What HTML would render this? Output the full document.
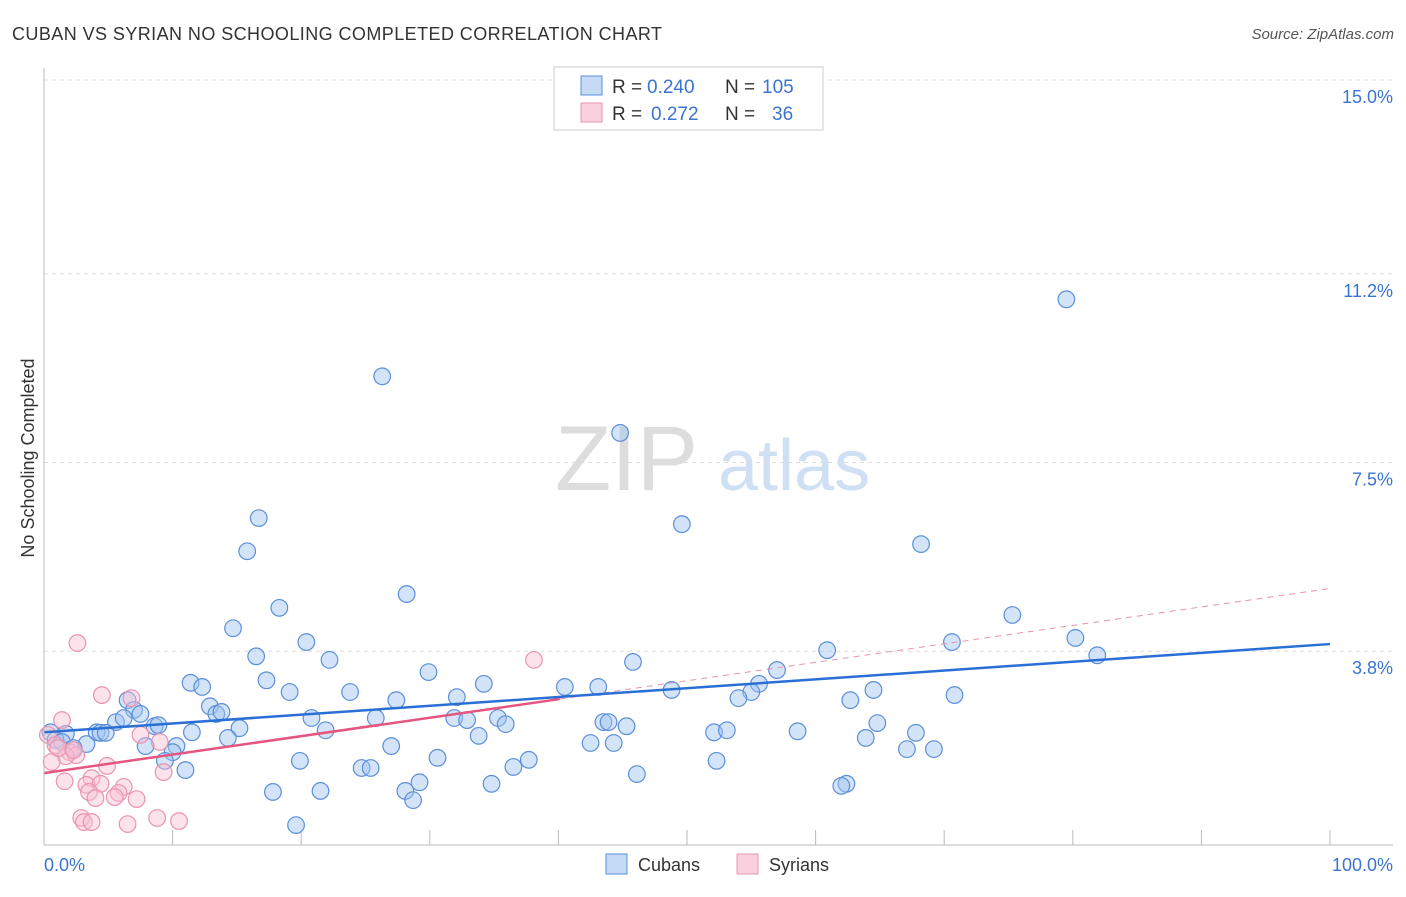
<!DOCTYPE html>
<html><head><meta charset="utf-8"><style>
body{margin:0;background:#fff;font-family:"Liberation Sans",sans-serif}
svg text{font-family:"Liberation Sans",sans-serif}
</style></head><body>
<svg id="c" width="1406" height="892">
<text x="12" y="40" font-size="18" fill="#333" textLength="650">CUBAN VS SYRIAN NO SCHOOLING COMPLETED CORRELATION CHART</text>
<text x="1394" y="39" font-size="15" fill="#555" font-style="italic" text-anchor="end">Source: ZipAtlas.com</text>
<text x="34" y="458" font-size="18" fill="#333" transform="rotate(-90 34 458)" text-anchor="middle">No Schooling Completed</text>
<text x="555" y="490" font-size="92" fill="#ddd" font-family="Liberation Serif">ZIP</text>
<text x="718" y="490" font-size="72" fill="#cfe0f4">atlas</text>
<g id="grid"></g><g id="pts"></g><g id="lines"></g>
<line x1="44" y1="68" x2="44" y2="845" stroke="#bbb"/>
<line x1="44" y1="845" x2="1393" y2="845" stroke="#bbb"/>
<text x="44" y="871" font-size="18" fill="#3b74d0">0.0%</text>
<text x="1393" y="871" font-size="18" fill="#3b74d0" text-anchor="end">100.0%</text>
<g>
<rect x="554" y="67" width="269" height="63" fill="#fff" stroke="#ccc"/>
<rect x="581" y="76" width="21" height="19" fill="#c5dbf5" stroke="#5b8fd9"/>
<rect x="581" y="103" width="21" height="19" fill="#fbd0de" stroke="#e994b0"/>
<text x="612" y="93" font-size="19" fill="#333">R =</text>
<text x="647" y="93" font-size="19" fill="#3b74d0">0.240</text>
<text x="725" y="93" font-size="19" fill="#333">N =</text>
<text x="762" y="93" font-size="19" fill="#3b74d0">105</text>
<text x="612" y="120" font-size="19" fill="#333">R =</text>
<text x="651" y="120" font-size="19" fill="#3b74d0">0.272</text>
<text x="725" y="120" font-size="19" fill="#333">N =</text>
<text x="772" y="120" font-size="19" fill="#3b74d0">36</text>
</g>
<g>
<rect x="606" y="854" width="21" height="20" fill="#c5dbf5" stroke="#5b8fd9"/>
<text x="638" y="871" font-size="18" fill="#333">Cubans</text>
<rect x="737" y="854" width="21" height="20" fill="#fbd0de" stroke="#e994b0"/>
<text x="769" y="871" font-size="18" fill="#333">Syrians</text>
</g>
</svg>
<script>
const yTicks=[3.8,7.5,11.2,15.0];
const yTickLabels=["3.8%","7.5%","11.2%","15.0%"];
const cubanX=[26.3,79.5,44.8,49.6,16.7,15.8,68.2,28.2,18.3,75.3,14.7,20.4,70.6,80.2,60.9,81.9,16.5,22.2,45.8,29.9,57.0,11.4,12.3,17.3,34.2,40.5,43.1,48.8,55.6,55.0,64.5,19.1,23.8,32.1,27.4,54.0,62.7,70.8,6.5,12.9,7.0,7.5,13.4,13.8,20.8,25.8,31.9,32.9,35.3,35.9,5.6,6.2,8.6,8.9,43.5,43.9,45.3,64.8,4.1,4.4,4.8,11.5,15.2,21.9,52.1,53.1,58.6,67.8,0.5,1.7,14.3,33.8,63.9,0.9,1.4,3.3,2.3,42.5,44.3,10.3,7.9,27.0,67.1,69.2,10.0,9.4,19.9,30.6,37.7,52.3,36.5,24.7,25.4,11.0,46.1,29.2,34.8,62.4,62.0,17.8,21.5,28.1,28.7,19.6];
const cubanY=[9.19,10.70,8.08,6.29,6.41,5.76,5.90,4.92,4.65,4.51,4.25,3.98,3.98,4.06,3.82,3.72,3.70,3.63,3.59,3.39,3.43,3.18,3.10,3.23,3.16,3.10,3.10,3.04,3.16,3.00,3.04,3.00,3.00,2.90,2.84,2.88,2.84,2.94,2.84,2.72,2.65,2.57,2.57,2.61,2.49,2.49,2.49,2.45,2.49,2.37,2.41,2.49,2.33,2.35,2.41,2.41,2.33,2.39,2.21,2.20,2.20,2.21,2.29,2.25,2.21,2.25,2.23,2.20,2.21,2.18,2.10,2.14,2.10,2.06,2.02,1.98,1.90,2.00,2.00,1.94,1.94,1.94,1.88,1.88,1.82,1.65,1.65,1.71,1.67,1.65,1.53,1.51,1.51,1.47,1.39,1.23,1.20,1.20,1.16,1.04,1.06,1.06,0.88,0.39];
const syrianX=[2.6,4.5,6.8,1.4,7.5,9.0,0.3,0.9,2.0,2.5,1.7,0.6,4.9,9.3,3.7,1.6,3.3,4.4,6.2,5.8,3.5,4.0,5.5,7.2,38.1,2.9,3.1,3.7,6.5,8.8,10.5,1.1,2.3];
const syrianY=[3.96,2.94,2.88,2.45,2.16,2.02,2.16,1.96,1.82,1.76,1.74,1.63,1.55,1.43,1.31,1.25,1.18,1.20,1.14,1.02,1.04,0.92,0.94,0.90,3.63,0.53,0.45,0.45,0.41,0.53,0.47,1.90,1.86];
const cubanTrend=[2.21,3.94];
const syrianTrend=[1.41,5.03];
const syrianSolidEnd=40.1;
const NS='http://www.w3.org/2000/svg';
const sx=v=>44+v*12.86, sy=v=>845-v*51.0;
function mk(t,a,p){const e=document.createElementNS(NS,t);for(const k in a)e.setAttribute(k,a[k]);p.appendChild(e);return e;}
const grid=document.getElementById('grid');
yTicks.forEach((t,i)=>{
  const l=mk('line',{x1:44,x2:1393,y1:sy(t),y2:sy(t),stroke:'#ddd','stroke-dasharray':'4,4'},grid);
  
  
  const tx=mk('text',{x:1393,y:sy(t)+23,'font-size':18,fill:'#3b74d0','text-anchor':'end'},grid);
  tx.textContent=yTickLabels[i];
  
  
});
for(let i=1;i<=10;i++){
  const l=mk('line',{x1:sx(i*10),x2:sx(i*10),y1:830,y2:845,stroke:'#bbb'},grid);
  
  
}
const pts=document.getElementById('pts');
cubanX.forEach((x,i)=>{
  const c=mk('circle',{cx:sx(x),cy:sy(cubanY[i]),r:8.3,fill:'rgba(160,196,240,0.45)',stroke:'#5b8fd9','stroke-width':1.2},pts);
  
  
});
syrianX.forEach((x,i)=>{
  const c=mk('circle',{cx:sx(x),cy:sy(syrianY[i]),r:8.3,fill:'rgba(248,190,210,0.45)',stroke:'#e994b0','stroke-width':1.2},pts);
  
  
});
const L=document.getElementById('lines');
const sv=x=>syrianTrend[0]+(syrianTrend[1]-syrianTrend[0])*x/100;
let a=mk('line',{x1:sx(syrianSolidEnd),y1:sy(sv(syrianSolidEnd)),x2:sx(100),y2:sy(syrianTrend[1]),stroke:'#e694ae','stroke-dasharray':'6,5','stroke-width':1},L);


let b=mk('line',{x1:sx(0),y1:sy(syrianTrend[0]),x2:sx(syrianSolidEnd),y2:sy(sv(syrianSolidEnd)),stroke:'#e4557f','stroke-width':2.5},L);


let d=mk('line',{x1:sx(0),y1:sy(cubanTrend[0]),x2:sx(100),y2:sy(cubanTrend[1]),stroke:'#2a6fd6','stroke-width':2.5},L);


</script>
</body></html>
